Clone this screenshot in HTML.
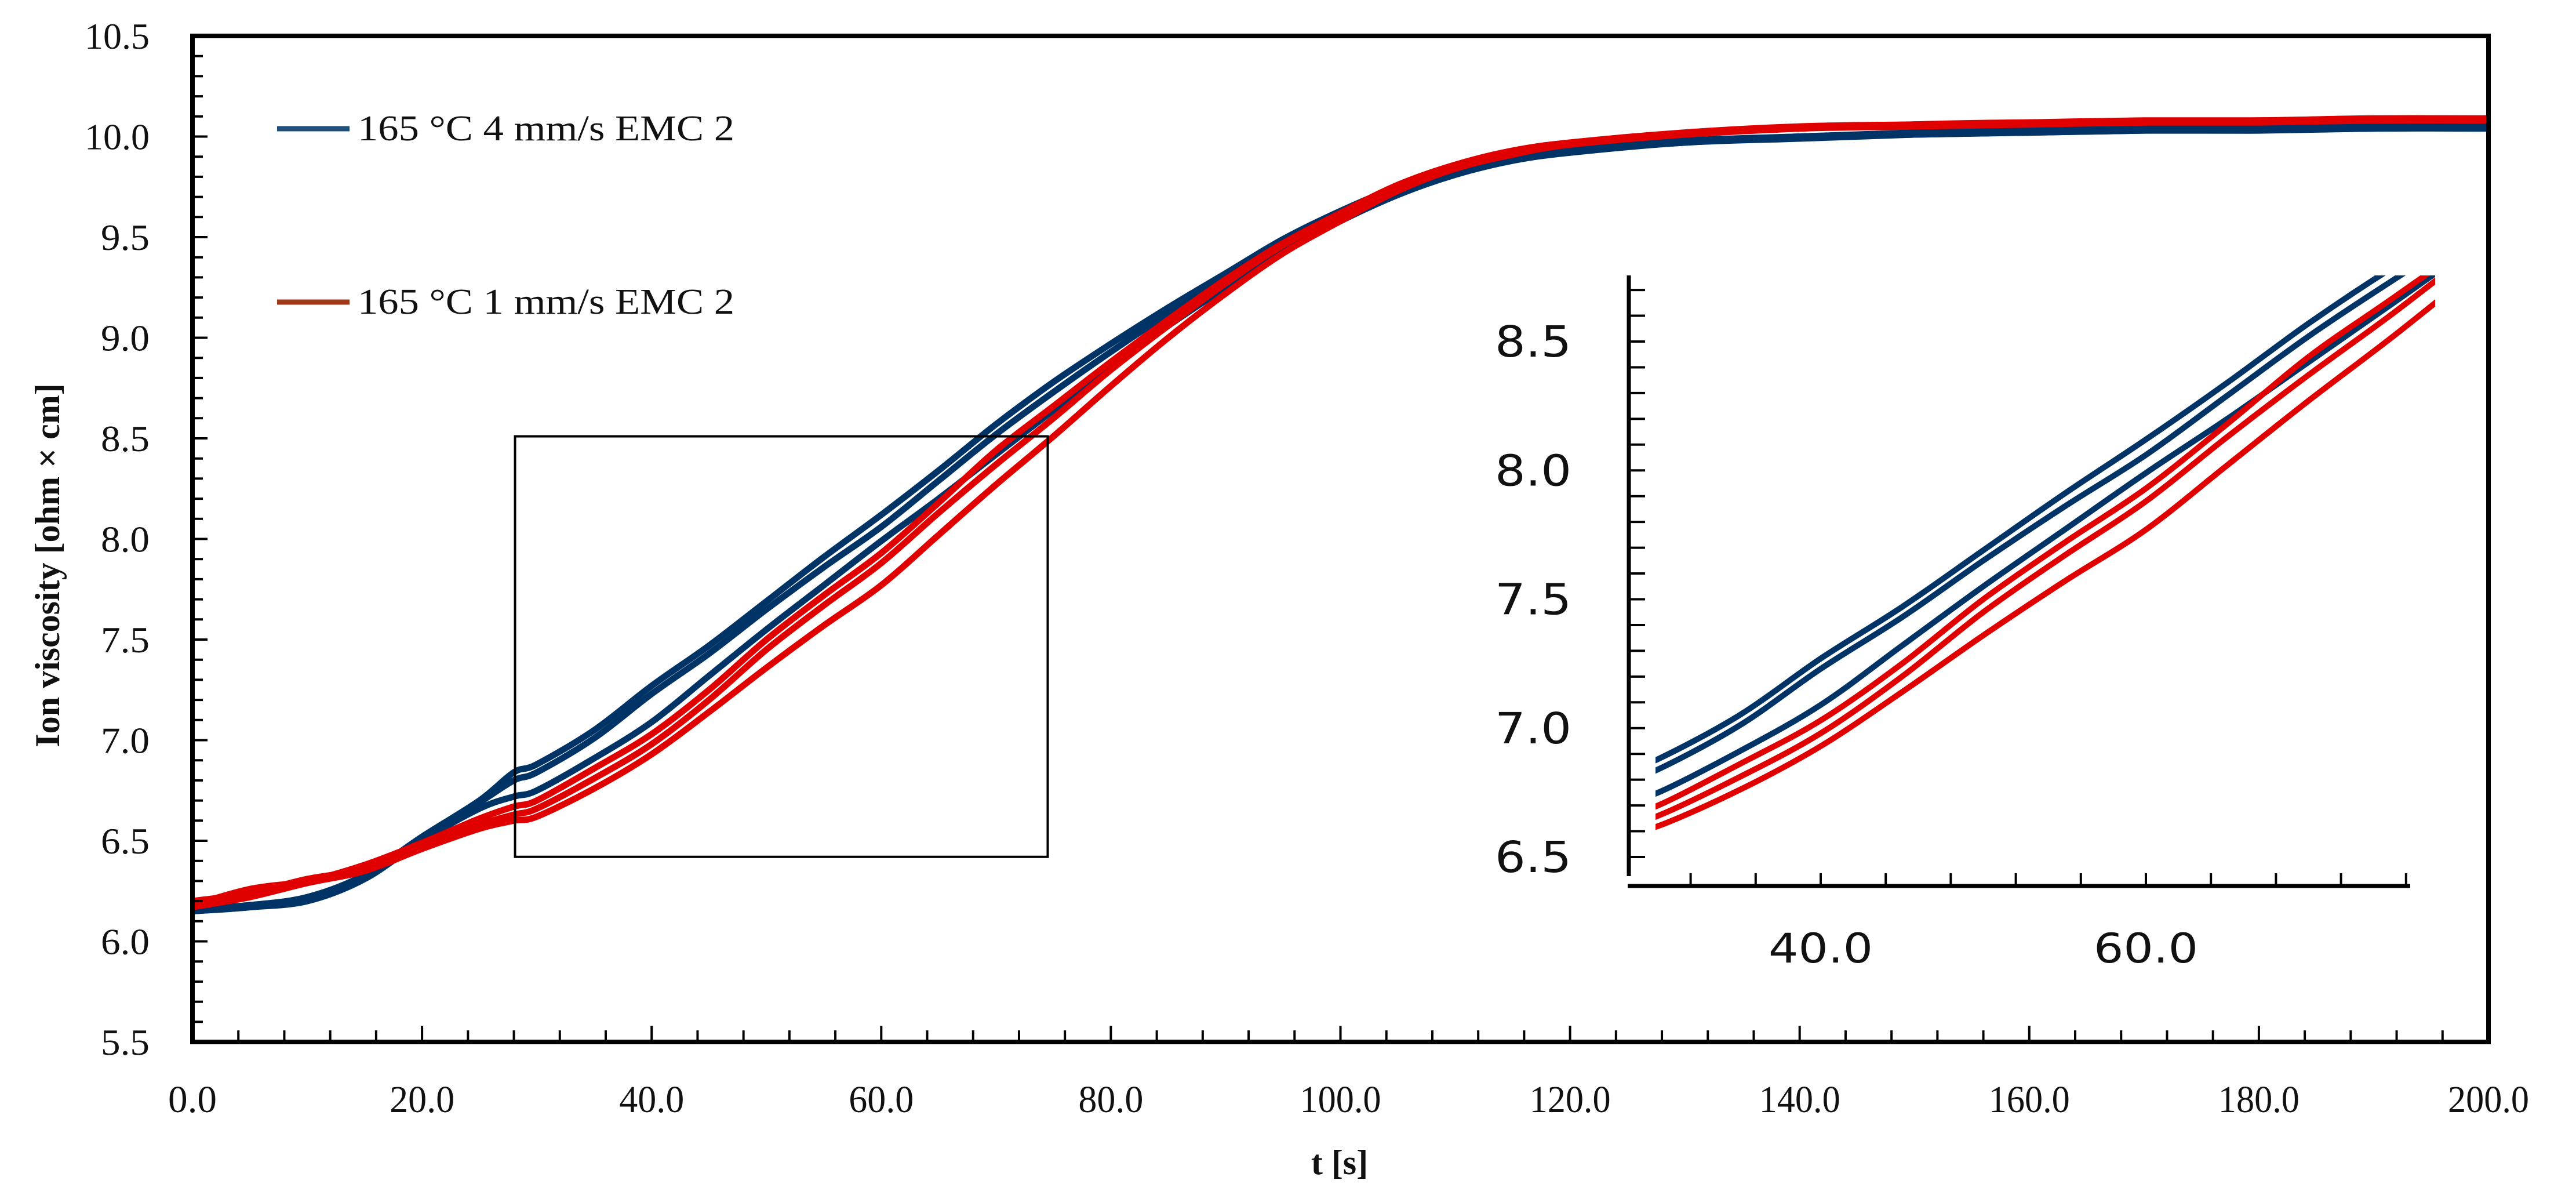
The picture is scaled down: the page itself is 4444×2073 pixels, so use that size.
<!DOCTYPE html>
<html><head><meta charset="utf-8">
<style>
html,body{margin:0;padding:0;background:#fff;}
svg{display:block;}
</style></head>
<body>
<svg id="chart" xmlns="http://www.w3.org/2000/svg" width="4444" height="2073" viewBox="0 0 4444 2073">
<rect x="0" y="0" width="4444" height="2073" fill="#fff"/>
<defs>
<clipPath id="insetClip"><rect x="2856" y="475" width="1345" height="1036"/></clipPath>
<clipPath id="mainClip"><rect x="332" y="62" width="3961" height="1735"/></clipPath>
</defs>
<g id="mainSeries" clip-path="url(#mainClip)"></g>
<g id="mainAxes"></g>
<g id="inset"></g>
<g id="legend">
  <line x1="478" y1="222" x2="603" y2="222" stroke="#1f4e79" stroke-width="9"/>
  <text x="617" y="242" font-family="Liberation Serif, serif" font-size="62" textLength="650" lengthAdjust="spacingAndGlyphs" fill="#111">165 °C 4 mm/s EMC 2</text>
  <line x1="478" y1="521" x2="603" y2="521" stroke="#a0391a" stroke-width="9"/>
  <text x="617" y="541" font-family="Liberation Serif, serif" font-size="62" textLength="650" lengthAdjust="spacingAndGlyphs" fill="#111">165 °C 1 mm/s EMC 2</text>
</g>
<text x="88" y="975" transform="rotate(-90 88 975)" text-anchor="middle" dominant-baseline="middle" font-family="Liberation Serif, serif" font-weight="bold" font-size="60" fill="#111">Ion viscosity [ohm × cm]</text>
<text x="2311" y="2025" text-anchor="middle" font-family="Liberation Serif, serif" font-weight="bold" font-size="60" fill="#111">t [s]</text>
</svg>
<script>
const times = [0,5,10,15,20,25,28,30,35,40,45,50,55,60,65,70,75,80,85,90,95,100,105,110,115,120,130,140,150,160,170,180,190,200];
const blue1 = [6.16,6.18,6.22,6.33,6.52,6.70,6.84,6.88,7.05,7.27,7.47,7.69,7.91,8.12,8.34,8.57,8.78,8.97,9.15,9.32,9.49,9.63,9.75,9.84,9.90,9.94,9.98,10.00,10.02,10.03,10.04,10.04,10.05,10.05];
const blue2 = [6.15,6.17,6.21,6.32,6.51,6.69,6.80,6.84,7.01,7.23,7.43,7.65,7.86,8.06,8.29,8.52,8.73,8.93,9.12,9.30,9.47,9.61,9.74,9.83,9.89,9.93,9.97,10.00,10.01,10.02,10.03,10.04,10.04,10.05];
const blue3 = [6.15,6.17,6.20,6.31,6.50,6.66,6.72,6.75,6.91,7.09,7.32,7.55,7.77,7.99,8.20,8.42,8.64,8.86,9.06,9.25,9.43,9.58,9.71,9.81,9.88,9.92,9.97,9.99,10.01,10.02,10.03,10.03,10.04,10.04];
const red1 = [6.18,6.26,6.30,6.38,6.49,6.61,6.67,6.70,6.86,7.03,7.25,7.50,7.72,7.93,8.18,8.44,8.66,8.88,9.09,9.29,9.47,9.62,9.76,9.86,9.93,9.97,10.02,10.05,10.06,10.07,10.08,10.08,10.09,10.09];
const red2 = [6.20,6.24,6.31,6.36,6.47,6.58,6.63,6.66,6.81,6.98,7.20,7.45,7.67,7.88,8.13,8.37,8.60,8.84,9.06,9.27,9.46,9.61,9.75,9.85,9.92,9.96,10.01,10.04,10.06,10.07,10.07,10.08,10.08,10.09];
const red3 = [6.17,6.22,6.29,6.35,6.46,6.56,6.60,6.62,6.76,6.93,7.14,7.36,7.57,7.77,8.02,8.27,8.51,8.76,9.00,9.22,9.42,9.58,9.73,9.84,9.91,9.96,10.01,10.04,10.05,10.06,10.07,10.07,10.08,10.08];
const mainXTicks = ["0.0","20.0","40.0","60.0","80.0","100.0","120.0","140.0","160.0","180.0","200.0"];
const mainYTicks = ["5.5","6.0","6.5","7.0","7.5","8.0","8.5","9.0","9.5","10.0","10.5"];
const insetXTicks = ["40.0","60.0"];
const insetYTicks = ["6.5","7.0","7.5","8.0","8.5"];

const NS = "http://www.w3.org/2000/svg";
function mk(tag, attrs, parent){const e=document.createElementNS(NS,tag);for(const k in attrs)e.setAttribute(k,attrs[k]);parent.appendChild(e);return e;}
const mx = v => 332 + (v-0)/200*3961;
const my = v => 1797 - (v-5.5)/5*1735;
const ix = v => 3141 + (v-40)*28.05;
const iy = v => 589 + (8.5-v)*444.5;

function pathFor(xs, ys, fx, fy){
  const p = xs.map((t,i)=>[fx(t), fy(ys[i])]);
  let d = "M"+p[0][0].toFixed(1)+","+p[0][1].toFixed(1);
  for(let i=0;i<p.length-1;i++){
    const p0=p[i-1]||p[i], p1=p[i], p2=p[i+1], p3=p[i+2]||p2;
    const c1x=p1[0]+(p2[0]-p0[0])/6, c1y=p1[1]+(p2[1]-p0[1])/6;
    const c2x=p2[0]-(p3[0]-p1[0])/6, c2y=p2[1]-(p3[1]-p1[1])/6;
    d+=" C"+c1x.toFixed(1)+","+c1y.toFixed(1)+" "+c2x.toFixed(1)+","+c2y.toFixed(1)+" "+p2[0].toFixed(1)+","+p2[1].toFixed(1);
  }
  return d;
}
const series = [[blue1,"#003366","blue-run-1"],[blue2,"#003366","blue-run-2"],[blue3,"#003366","blue-run-3"],[red3,"#e00000","red-run-3"],[red2,"#e00000","red-run-2"],[red1,"#e00000","red-run-1"]];
const gMain = document.getElementById("mainSeries");
series.forEach(s=>{
  const el = mk("path",{d:pathFor(times,s[0],mx,my),fill:"none",stroke:s[1],"stroke-width":11,"stroke-linejoin":"round"},gMain);
  
  
});

const gAx = document.getElementById("mainAxes");
for(let v=5.5; v<=10.501; v+=0.1){
  const major = Math.abs((v*2)-Math.round(v*2))<0.01;
  const t = mk("line",{x1:332,x2:332+(major?26:18),y1:my(v),y2:my(v),stroke:"#000","stroke-width":4},gAx);
  
  
}
for(let v=0; v<=200.01; v+=4){
  const major = Math.abs(v/20-Math.round(v/20))<0.01;
  const t = mk("line",{x1:mx(v),x2:mx(v),y1:1797,y2:1797-(major?28:20),stroke:"#000","stroke-width":4},gAx);
  
  
}
const frame = mk("rect",{x:332,y:62,width:3961,height:1735,fill:"none",stroke:"#000","stroke-width":8},gAx);


mainYTicks.forEach(lbl=>{
  const v=parseFloat(lbl);
  const t = mk("text",{x:258,y:my(v)+22,"text-anchor":"end","font-family":"Liberation Serif, serif","font-size":64,fill:"#111",textLength:lbl.length>3?112:84,lengthAdjust:"spacingAndGlyphs"},gAx);
  t.textContent=lbl;
  
  
});
mainXTicks.forEach(lbl=>{
  const v=parseFloat(lbl);
  const t = mk("text",{x:mx(v),y:1918,"text-anchor":"middle","font-family":"Liberation Serif, serif","font-size":66,fill:"#111",textLength:lbl.length*28,lengthAdjust:"spacingAndGlyphs"},gAx);
  t.textContent=lbl;
  
  
});
const box = mk("rect",{x:mx(28.1),y:my(8.51),width:mx(74.5)-mx(28.1),height:my(6.42)-my(8.51),fill:"none",stroke:"#000","stroke-width":4},gAx);



const gIn = document.getElementById("inset");
const gInS = mk("g",{"clip-path":"url(#insetClip)"},gIn);


series.forEach(s=>{
  const el = mk("path",{d:pathFor(times,s[0],ix,iy),fill:"none",stroke:s[1],"stroke-width":10,"stroke-linejoin":"round"},gInS);
  
  
});
const iya = mk("line",{x1:2810,x2:2810,y1:475,y2:1511,stroke:"#000","stroke-width":7},gIn);


const ixa = mk("line",{x1:2808,x2:4158,y1:1528,y2:1528,stroke:"#000","stroke-width":7},gIn);


for(let v=6.5; v<=8.751; v+=0.1){
  const t = mk("line",{x1:2810,x2:2838,y1:iy(v),y2:iy(v),stroke:"#000","stroke-width":4},gIn);
  
  
}
for(let v=32; v<=76.01; v+=4){
  const t = mk("line",{x1:ix(v),x2:ix(v),y1:1528,y2:1506,stroke:"#000","stroke-width":4},gIn);
  
  
}
insetYTicks.forEach(lbl=>{
  const v=parseFloat(lbl);
  const t = mk("text",{x:2711,y:iy(v)+26,"text-anchor":"end","font-family":"DejaVu Sans, sans-serif","font-size":74,fill:"#111",textLength:132,lengthAdjust:"spacingAndGlyphs"},gIn);
  t.textContent=lbl;
  
  
});
insetXTicks.forEach(lbl=>{
  const v=parseFloat(lbl);
  const t = mk("text",{x:ix(v),y:1660,"text-anchor":"middle","font-family":"DejaVu Sans, sans-serif","font-size":70,fill:"#111",textLength:180,lengthAdjust:"spacingAndGlyphs"},gIn);
  t.textContent=lbl;
  
  
});
</script>
</body></html>
